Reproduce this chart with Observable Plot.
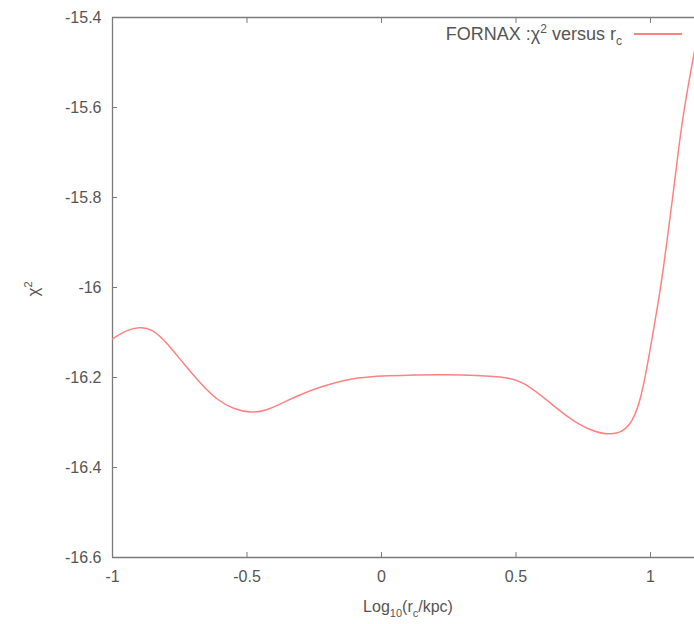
<!DOCTYPE html>
<html>
<head>
<meta charset="utf-8">
<script src="https://cdn.jsdelivr.net/npm/d3@7"></script>
<script src="https://cdn.jsdelivr.net/npm/@observablehq/plot@0.6"></script>
<style>
  html, body { margin: 0; padding: 0; background: #fff; }
  #chart svg { display: block; }
</style>
</head>
<body>
<div id="chart"></div>
<script>
// log10(r_c / kpc)
const logRc = [-1.000, -0.952, -0.903, -0.851, -0.796, -0.736, -0.673, -0.610, -0.550, -0.487,
  -0.428, -0.364, -0.301, -0.238, -0.115, 0.007, 0.245, 0.468, 0.528, 0.617,
  0.691, 0.766, 0.859, 0.926, 0.963, 0.987, 1.009, 1.030, 1.047, 1.065,
  1.086, 1.108, 1.130, 1.164];
// chi^2 values
const chi2 = [-16.114, -16.096, -16.087, -16.092, -16.124, -16.169, -16.213, -16.251, -16.270, -16.279,
  -16.274, -16.255, -16.238, -16.223, -16.201, -16.196, -16.192, -16.198, -16.210, -16.251,
  -16.288, -16.316, -16.331, -16.311, -16.251, -16.178, -16.102, -16.029, -15.962, -15.880,
  -15.784, -15.673, -15.584, -15.473];
const xTicks = [-1, -0.5, 0, 0.5, 1];
const yTicks = [-15.4, -15.6, -15.8, -16, -16.2, -16.4, -16.6];
const seriesName = "FORNAX";
const xDomain = [-1, 1.1636];
const yDomain = [-16.6, -15.4];

const data = logRc.map((x, i) => ({x, y: chi2[i]}));
const axisColor = "#7a7a7a";
const lineColor = "#ff8282";

const plot = Plot.plot({
  width: 694,
  height: 624,
  marginTop: 17,
  marginBottom: 67,
  marginLeft: 112,
  marginRight: 0,
  style: {fontFamily: "'Liberation Sans', Arial, sans-serif", fontSize: "16px", color: "#555", background: "#fff"},
  x: {domain: xDomain},
  y: {domain: yDomain},
  marks: [
    Plot.ruleY(yDomain, {stroke: axisColor, strokeWidth: 1.3}),
    Plot.ruleX([xDomain[0]], {stroke: axisColor, strokeWidth: 1.3}),
    Plot.axisX(xTicks, {anchor: "bottom", tickSize: -5, tickPadding: 18, stroke: axisColor, label: null, fill: "#555", tickFormat: d => String(d)}),
    Plot.axisX(xTicks, {anchor: "top", tickSize: -5, stroke: axisColor, label: null, tickFormat: () => ""}),
    Plot.axisY(yTicks, {anchor: "left", tickSize: -5, tickPadding: 16, stroke: axisColor, label: null, fill: "#555", tickFormat: d => String(d)}),
    Plot.line(data, {x: "x", y: "y", stroke: lineColor, strokeWidth: 1.5, curve: "basis", clip: true})
  ]
});
document.getElementById("chart").appendChild(plot);

const svg = d3.select(plot);
const font = "'Liberation Sans', Arial, sans-serif";

// x axis label: Log10(rc/kpc)
const xl = svg.append("text")
  .attr("x", 408).attr("y", 612)
  .attr("text-anchor", "middle")
  .attr("font-family", font).attr("font-size", 16).attr("fill", "#555");
xl.append("tspan").text("Log");
xl.append("tspan").attr("dy", 5).attr("font-size", 11).text("10");
xl.append("tspan").attr("dy", -5).text("(r");
xl.append("tspan").attr("dy", 5).attr("font-size", 11).text("c");
xl.append("tspan").attr("dy", -5).text("/kpc)");

// y axis label: chi^2
const yl = svg.append("text")
  .attr("transform", "translate(39,289) rotate(-90)")
  .attr("text-anchor", "middle")
  .attr("font-family", font).attr("font-size", 17).attr("fill", "#555");
yl.append("tspan").text("χ");
yl.append("tspan").attr("dy", -7).attr("font-size", 11).text("2");

// legend
const lg = svg.append("text")
  .attr("x", 622).attr("y", 40)
  .attr("text-anchor", "end")
  .attr("font-family", font).attr("font-size", 18).attr("fill", "#555");
lg.append("tspan").text(seriesName + " :χ");
lg.append("tspan").attr("dy", -7).attr("font-size", 12).text("2");
lg.append("tspan").attr("dy", 7).text(" versus r");
lg.append("tspan").attr("dy", 5).attr("font-size", 12).text("c");
svg.append("line")
  .attr("x1", 634).attr("x2", 682).attr("y1", 34).attr("y2", 34)
  .attr("stroke", lineColor).attr("stroke-width", 2);
</script>
</body>
</html>
